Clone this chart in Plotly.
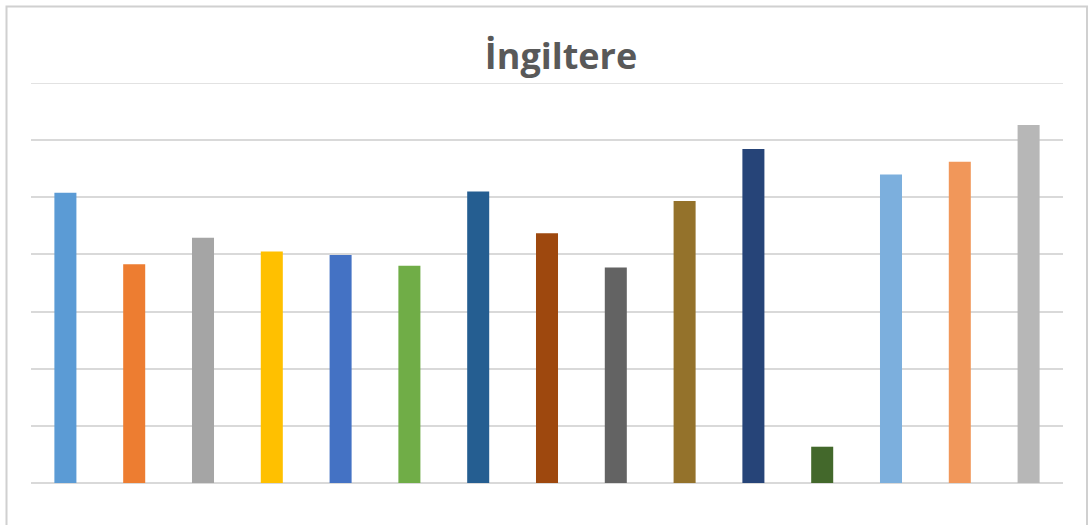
import plotly.graph_objects as go

categories = [f"K{i}" for i in range(1, 16)]
values = [5.08, 3.83, 4.29, 4.05, 3.99, 3.80, 5.10, 4.37, 3.77, 4.935, 5.845, 0.635, 5.40, 5.62, 6.265]
colors = ["#5B9BD5", "#ED7D31", "#A5A5A5", "#FFC000", "#4472C4", "#70AD47",
          "#255E91", "#9E480E", "#636363", "#94722B", "#264478", "#43682B",
          "#7CAFDD", "#F1975A", "#B7B7B7"]
title_text = "İngiltere"
y_ticks = [0, 1, 2, 3, 4, 5, 6, 7]
y_max = 7

fig = go.Figure(go.Bar(x=categories, y=values, marker=dict(color=colors, line=dict(width=0))))

W, H = 1088, 525
l, r, t, b = 31, 25, 83, 42
pw, ph = W - l - r, H - t - b

def px_x(x):
    return (x - l) / pw

def px_y(y):
    return (H - b - y) / ph

fig.update_layout(
    width=W, height=H,
    margin=dict(l=l, r=r, t=t, b=b, pad=0),
    paper_bgcolor="white", plot_bgcolor="white",
    bargap=0.68,
    showlegend=False,
    title=dict(text="<b>" + title_text + "</b>", x=561 / W, xanchor="center",
               y=1 - 56 / H, yanchor="middle",
               font=dict(family="Open Sans", size=36, color="#595959")),
    xaxis=dict(showticklabels=False, showgrid=False, zeroline=False, showline=False,
               ticks="", range=[-0.5, 14.5]),
    yaxis=dict(range=[0, y_max], tickvals=y_ticks, showticklabels=False, showgrid=True,
               gridcolor="#d9d9d9", gridwidth=1.5, zeroline=True, zerolinecolor="#d9d9d9",
               zerolinewidth=1.5, showline=False, ticks=""),
    shapes=[dict(type="rect", xref="paper", yref="paper",
                 x0=px_x(6.5), x1=px_x(1087), y0=px_y(532), y1=px_y(6.5),
                 line=dict(color="#d0d0d0", width=2), fillcolor="rgba(0,0,0,0)",
                 layer="below"),
            dict(type="line", xref="paper", yref="y", x0=0, x1=1, y0=y_max, y1=y_max,
                 line=dict(color="#d9d9d9", width=1.5), layer="below")],
)

fig.write_html("out.html", config={"displayModeBar": False},
               post_script="document.body.style.margin='0';document.body.style.overflow='hidden';")
